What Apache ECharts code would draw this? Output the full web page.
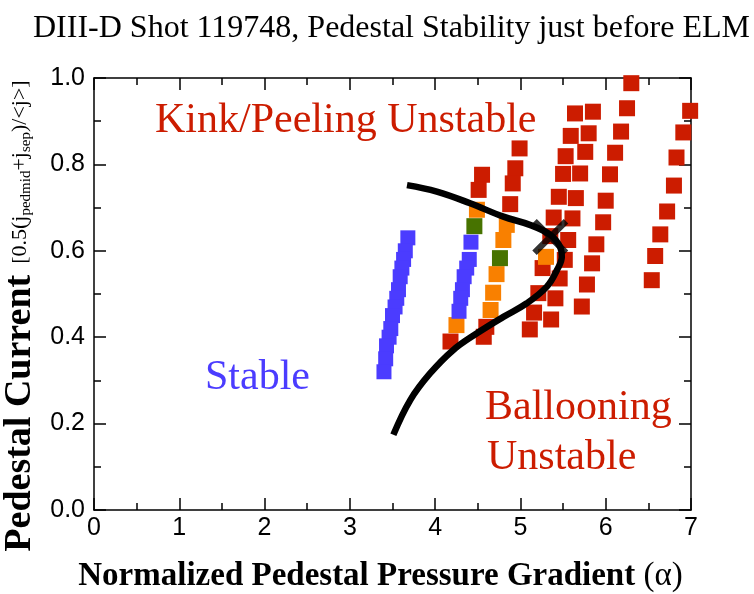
<!DOCTYPE html>
<html>
<head>
<meta charset="utf-8">
<script src="https://cdn.jsdelivr.net/npm/echarts@6/dist/echarts.min.js"></script>
<style>html,body{margin:0;padding:0;background:#fff;}#c{width:754px;height:594px;}</style>
</head>
<body>
<div id="c"></div>
<script>
// ---- data (alpha, pedestal current) ----
const stableLeft = [[3.68,0.63],[3.65,0.60],[3.63,0.58],[3.61,0.56],[3.59,0.54],[3.57,0.51],[3.55,0.49],[3.53,0.47],[3.50,0.45],[3.48,0.42],[3.46,0.40],[3.43,0.38],[3.42,0.35],[3.40,0.32]];
const stableRight = [[4.42,0.62],[4.40,0.58],[4.37,0.56],[4.34,0.54],[4.32,0.51],[4.30,0.49],[4.28,0.46]];
const orangePts = [[4.49,0.695],[4.25,0.428],[4.84,0.66],[4.80,0.625],[4.72,0.546],[4.68,0.503],[4.65,0.463],[5.30,0.586]];
const greenPts = [[4.46,0.657],[4.76,0.583]];
const redCol1 = [[4.55,0.776],[4.51,0.741],[4.18,0.39]];
const redCol2 = [[4.99,0.837],[4.94,0.791],[4.91,0.756],[4.88,0.708],[4.60,0.424],[4.57,0.401]];
const redCol3 = [[5.64,0.918],[5.59,0.866],[5.53,0.819],[5.50,0.778],[5.45,0.725],[5.39,0.677],[5.35,0.634],[5.26,0.56],[5.21,0.502],[5.16,0.457],[5.11,0.418]];
const redCol4 = [[5.85,0.922],[5.80,0.872],[5.76,0.829],[5.70,0.779],[5.65,0.722],[5.61,0.675],[5.56,0.625],[5.52,0.579],[5.46,0.536],[5.41,0.49],[5.36,0.441]];
const redCol5 = [[6.30,0.988],[6.25,0.930],[6.18,0.876],[6.11,0.827],[6.05,0.777],[6.00,0.716],[5.97,0.666],[5.89,0.615],[5.84,0.571],[5.78,0.522],[5.72,0.471]];
const redCol6 = [[6.99,0.924],[6.91,0.874],[6.83,0.816],[6.80,0.751],[6.72,0.691],[6.64,0.638],[6.58,0.588],[6.54,0.532]];
const boundaryCurve = [[3.67,0.752],[4.02,0.737],[4.41,0.710],[4.80,0.679],[5.11,0.660],[5.35,0.637],[5.465,0.609],[5.485,0.586],[5.43,0.556],[5.31,0.517],[5.07,0.478],[4.80,0.447],[4.49,0.409],[4.21,0.370],[3.94,0.316],[3.71,0.255],[3.51,0.174]];
const crossPoint = [[5.35,0.632]];
const xRange = [0, 7];
const yRange = [0, 1];

const RED = '#cc1c00', ORANGE = '#f98000', GREEN = '#477300', BLUE = '#4b3cff';
const SERIF = '"Liberation Serif", "Times New Roman", serif';
const SANS = '"Liberation Sans", Arial, sans-serif';

function sq(name, data, color, size) {
  return { name, type: 'scatter', data, symbol: 'rect', symbolSize: size || 16,
    itemStyle: { color, opacity: 1 }, z: 2, silent: true, animation: false };
}
const lineSt = { color: '#000', width: 1.5 };
function frameAxis(extra) {
  return Object.assign({
    type: 'value',
    axisLine: { onZero: false, lineStyle: lineSt },
    axisTick: { inside: true, length: 12, lineStyle: lineSt },
    minorTick: { show: true, splitNumber: 2, length: 7, lineStyle: lineSt },
    splitLine: { show: false }
  }, extra);
}

const chart = echarts.init(document.getElementById('c'), null, { renderer: 'canvas' });
chart.setOption({
  animation: false,
  backgroundColor: '#fff',
  title: {
    text: 'DIII-D Shot 119748, Pedestal Stability just before ELM',
    left: 28, top: 8,
    textStyle: { fontFamily: SERIF, fontWeight: 'normal', fontSize: 32, color: '#000' }
  },
  grid: { left: 94, right: 63, top: 78, bottom: 84, containLabel: false, outerBoundsMode: 'none' },
  xAxis: [frameAxis({
    min: xRange[0], max: xRange[1], interval: 1, position: 'bottom',
    axisLabel: { fontFamily: SANS, fontSize: 25, color: '#000', margin: 6 },
    name: '{b|Normalized Pedestal Pressure Gradient }{r|(α)}',
    nameLocation: 'middle', nameGap: 50,
    nameTextStyle: { padding: [0, 24, 0, 0], rich: {
      b: { fontFamily: SERIF, fontWeight: 'bold', fontSize: 33, color: '#000' },
      r: { fontFamily: SERIF, fontWeight: 'normal', fontSize: 33, color: '#000' }
    } }
  }), frameAxis({
    min: xRange[0], max: xRange[1], interval: 1, position: 'top',
    axisLabel: { show: false }
  })],
  yAxis: [frameAxis({
    min: yRange[0], max: yRange[1], interval: 0.2, position: 'left',
    axisLabel: { fontFamily: SANS, fontSize: 25, color: '#000', margin: 9, formatter: v => v.toFixed(1) },
    name: '{b|Pedestal Current}{s|  [0.5(j}{sub|pedmid}{s|+j}{sub|sep}{s|)/<j>]}',
    nameLocation: 'middle', nameRotate: 90, nameGap: 52,
    nameTextStyle: { padding: [0, 44, 0, 0], rich: {
      b: { fontFamily: SERIF, fontWeight: 'bold', fontSize: 38, color: '#000', verticalAlign: 'middle' },
      s: { fontFamily: SERIF, fontWeight: 'normal', fontSize: 22, color: '#000', verticalAlign: 'middle' },
      sub: { fontFamily: SERIF, fontWeight: 'normal', fontSize: 15, color: '#000', verticalAlign: 'middle', padding: [12, 0, 0, 0] }
    } }
  }), frameAxis({
    min: yRange[0], max: yRange[1], interval: 0.2, position: 'right',
    axisLabel: { show: false }
  })],
  graphic: [
    { type: 'text', left: 155, top: 100, style: { text: 'Kink/Peeling Unstable', fill: RED, font: '42px ' + SERIF } },
    { type: 'text', left: 205, top: 357, style: { text: 'Stable', fill: BLUE, font: '42px ' + SERIF } },
    { type: 'text', left: 485, top: 387, style: { text: 'Ballooning', fill: RED, font: '42px ' + SERIF } },
    { type: 'text', left: 487, top: 437, style: { text: 'Unstable', fill: RED, font: '42px ' + SERIF } }
  ],
  series: [
    sq('red1', redCol1, RED), sq('red2', redCol2, RED), sq('red3', redCol3, RED),
    sq('red4', redCol4, RED), sq('red5', redCol5, RED), sq('red6', redCol6, RED),
    sq('orange', orangePts, ORANGE), sq('green', greenPts, GREEN),
    sq('stableL', stableLeft, BLUE, 15), sq('stableR', stableRight, BLUE, 15),
    { name: 'boundary', type: 'line', data: boundaryCurve, smooth: 0.4, showSymbol: false,
      lineStyle: { color: '#000', width: 6.5 }, z: 5, silent: true },
    { name: 'cross', type: 'scatter', data: crossPoint, symbolSize: 36,
      symbol: 'path://M0,4L4,0L16,12L28,0L32,4L20,16L32,28L28,32L16,20L4,32L0,28L12,16Z',
      itemStyle: { color: '#000' }, z: 6, silent: true }
  ]
});
</script>
</body>
</html>
